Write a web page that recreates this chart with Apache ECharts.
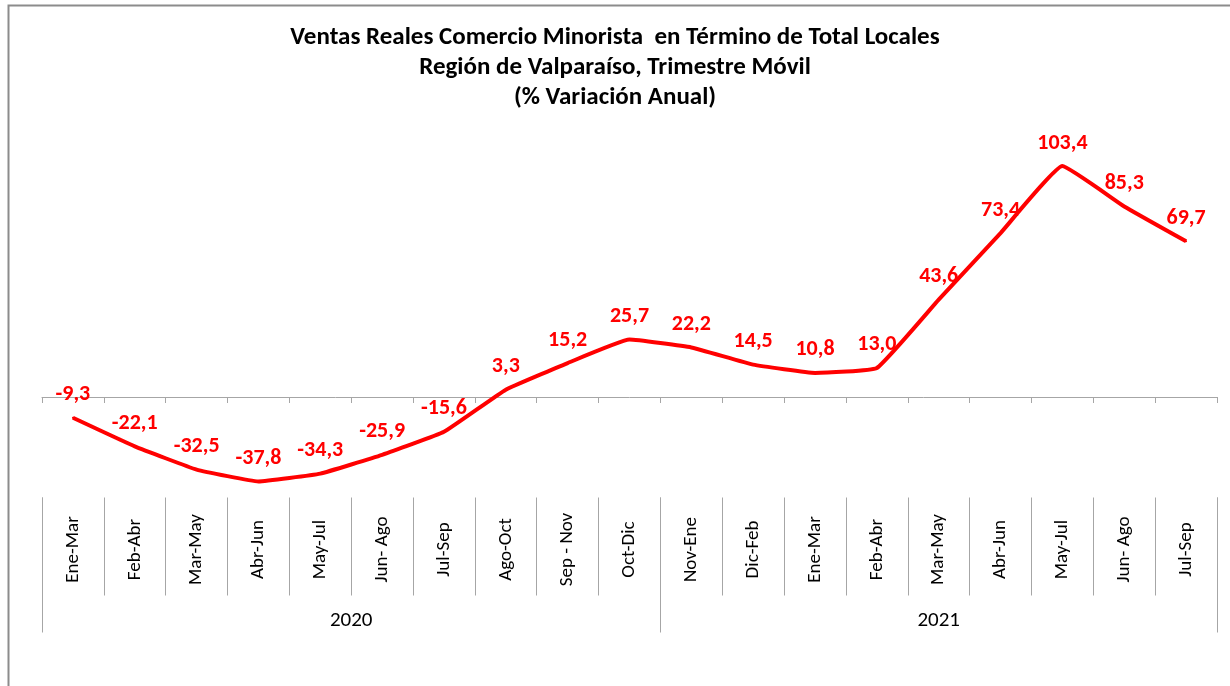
<!DOCTYPE html>
<html>
<head>
<meta charset="utf-8">
<script src="https://cdn.jsdelivr.net/npm/echarts@6/dist/echarts.min.js"></script>
<style>
  html, body { margin: 0; padding: 0; background: #fff; }
  #chart { width: 1230px; height: 686px; }
</style>
</head>
<body>
<div id="chart"></div>
<script>
// trimestres moviles
const categories = ['Ene-Mar', 'Feb-Abr', 'Mar-May', 'Abr-Jun', 'May-Jul', 'Jun- Ago', 'Jul-Sep', 'Ago-Oct', 'Sep - Nov', 'Oct-Dic',
  'Nov-Ene', 'Dic-Feb', 'Ene-Mar', 'Feb-Abr', 'Mar-May', 'Abr-Jun', 'May-Jul', 'Jun- Ago', 'Jul-Sep'];
const variacion = [-9.3, -22.1, -32.5, -37.8, -34.3, -25.9, -15.6, 3.3, 15.2, 25.7,
  22.2, 14.5, 10.8, 13.0, 43.6, 73.4, 103.4, 85.3, 69.7];
// agrupacion por año (cantidad de trimestres)
const years = ['2020', '2021'];
const yearSpans = [10, 9];

// limites y centros de cada grupo de año
const yearBounds = [0];
const yearCenters = [];
yearSpans.forEach((n, i) => {
  yearCenters.push(yearBounds[i] + n / 2);
  yearBounds.push(yearBounds[i] + n);
});

const font = 'Carlito, Lato, sans-serif';
const gray = '#a6a6a6';

const chart = echarts.init(document.getElementById('chart'));

const option = {
  animation: false,
  title: {
    text: 'Ventas Reales Comercio Minorista  en Término de Total Locales\nRegión de Valparaíso, Trimestre Móvil\n(% Variación Anual)',
    left: 'center',
    top: 23,
    padding: [0, 0, 0, 10],
    textStyle: {
      fontFamily: font,
      fontSize: 25,
      fontWeight: 'bold',
      color: '#000',
      lineHeight: 30
    }
  },
  graphic: [{
    type: 'rect',
    left: 6,
    top: 3,
    shape: { width: 1400, height: 900 },
    style: { fill: 'none', stroke: '#8c8c8c', lineWidth: 2 },
    silent: true
  }],
  grid: {
    left: 42,
    right: 13,
    top: 129,
    bottom: 188.5
  },
  xAxis: [
    {
      // linea del cero
      type: 'category',
      data: categories,
      position: 'bottom',
      axisLine: { onZero: true, lineStyle: { color: gray, width: 1 } },
      axisTick: { show: true, interval: 0, length: 6, lineStyle: { color: gray } },
      axisLabel: { show: false }
    },
    {
      // etiquetas de trimestres
      type: 'category',
      data: categories,
      position: 'bottom',
      axisLine: { show: false, onZero: false },
      axisTick: { show: true, interval: 0, length: 98, lineStyle: { color: gray } },
      axisLabel: {
        interval: 0,
        rotate: 90,
        align: 'center',
        verticalAlign: 'middle',
        margin: 52,
        fontFamily: font,
        fontSize: 19,
        color: '#000'
      }
    },
    {
      // etiquetas de año
      type: 'value',
      min: 0,
      max: yearBounds[yearBounds.length - 1],
      position: 'bottom',
      axisLine: { show: false, onZero: false },
      splitLine: { show: false },
      axisTick: { show: true, customValues: yearBounds, length: 135, lineStyle: { color: gray } },
      axisLabel: {
        customValues: yearCenters,
        margin: 113,
        fontFamily: font,
        fontSize: 21,
        color: '#000',
        formatter: function (v) {
          const i = yearCenters.indexOf(v);
          return i >= 0 ? years[i] : '';
        }
      }
    }
  ],
  yAxis: {
    type: 'value',
    min: -45,
    max: 120,
    show: false,
    splitLine: { show: false }
  },
  series: [
    {
      type: 'line',
      xAxisIndex: 0,
      yAxisIndex: 0,
      data: variacion,
      smooth: 0.1,
      symbol: 'circle',
      symbolSize: 2,
      itemStyle: { color: '#ff0000' },
      lineStyle: { color: '#ff0000', width: 4 },
      label: {
        show: true,
        position: 'top',
        distance: 11,
        fontFamily: font,
        fontSize: 22,
        fontWeight: 'bold',
        color: '#ff0000',
        formatter: function (p) {
          return p.value.toFixed(1).replace('.', ',');
        }
      }
    }
  ]
};

chart.setOption(option);
</script>
</body>
</html>
